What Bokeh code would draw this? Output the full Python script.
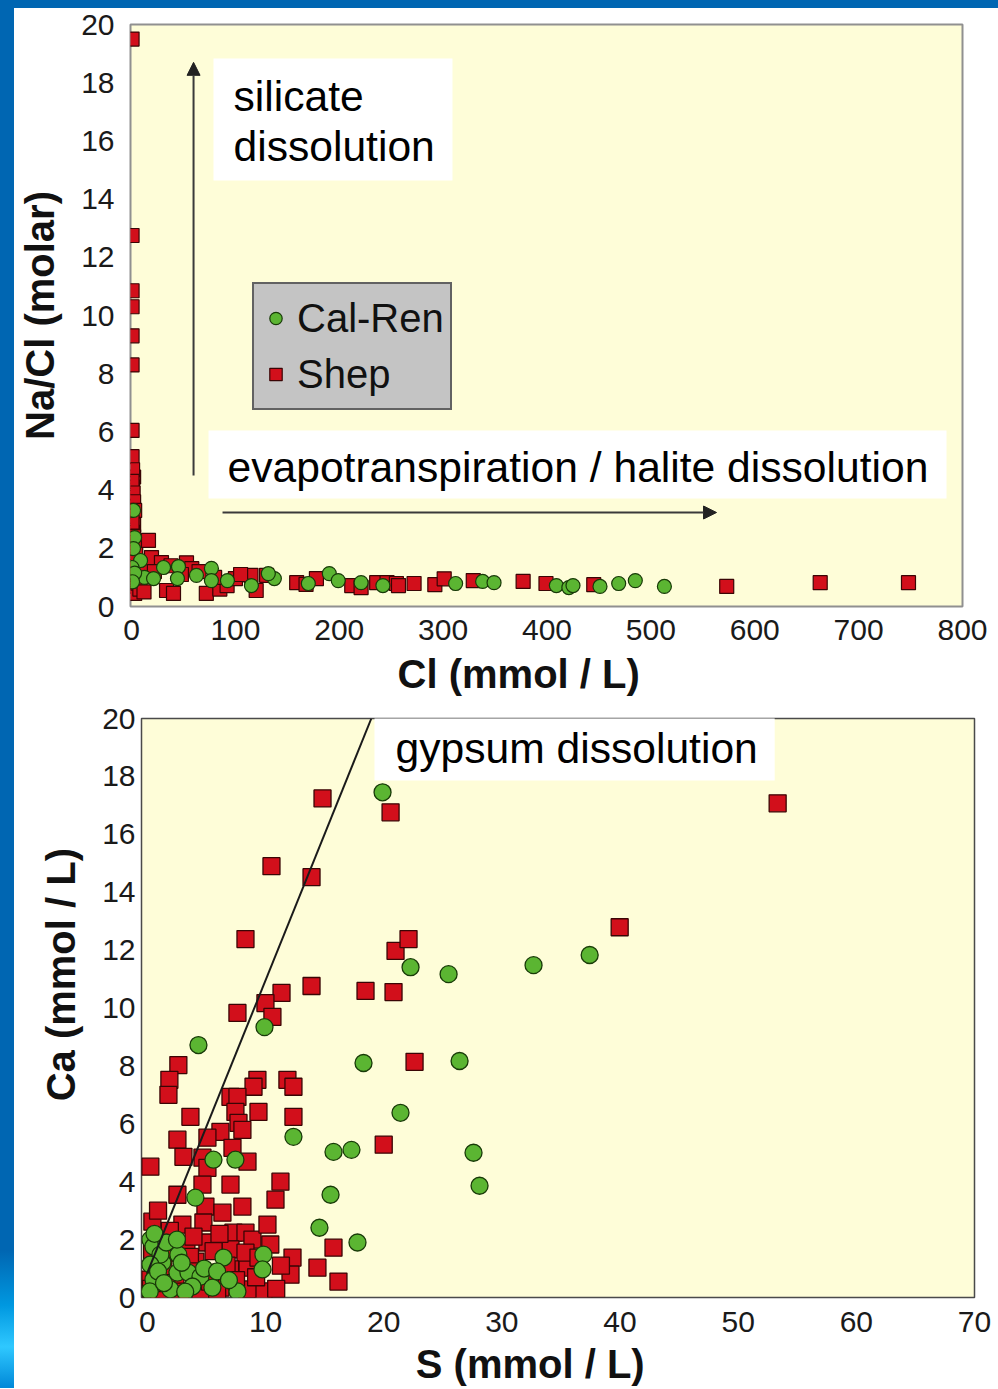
from bokeh.plotting import figure
from bokeh.models import (Range1d, Legend, LegendItem, BoxAnnotation, Label, Arrow,
                          NormalHead, FixedTicker, Div)
from bokeh.layouts import column, row
from bokeh.embed import file_html
from bokeh.resources import INLINE

# ---------------- top chart data: Na/Cl vs Cl ----------------
shep_cl = [0.5, 0.5, 0.5, 0.5, 0.5, 0.5, 0.5, 0.5, 2, 1, 0.5, 1, 1.5, 2, 1, 2.5, 1, 3, 2, 1, 4, 3,
           1, 0.5, 1.5, 2, 3, 0.5, 2, 4, 5, 6, 8, 10, 12,
           16.3, 19.2, 28.8, 33.7, 40.4, 52.9, 58, 72, 85, 92, 100, 115, 120, 130, 159, 168, 178,
           22, 38, 48, 65, 80, 105,
           212, 221, 236, 246, 255, 257, 272, 292, 301, 329, 377, 399, 445, 573, 663, 748]
shep_nacl = [19.5, 12.75, 10.85, 10.3, 9.3, 8.3, 6.05, 5.15, 4.45, 4.1, 3.75, 3.45, 3.1, 2.8, 2.55, 2.2,
             1.85, 1.6, 1.3, 1.0, 0.7, 0.45,
             4.7, 4.3, 3.9, 3.6, 3.3, 2.9, 2.4, 2.0, 1.1, 0.8, 0.6, 1.3, 0.5,
             2.27, 1.68, 1.51, 0.55, 0.45, 1.5, 1.3, 0.45, 0.6, 0.72, 0.96, 1.07, 0.55, 1.07, 0.82, 0.76,
             0.96,
             1.2, 1.4, 1.1, 1.2, 1.0, 1.1,
             0.72, 0.65, 0.82, 0.82, 0.79, 0.72, 0.79, 0.75, 0.95, 0.89, 0.86, 0.79, 0.75, 0.69,
             0.82, 0.82]
calren_cl = [1.9, 2.9, 1.9, 8.7, 0.5, 12.5, 21.2, 30.8, 45.2, 44.2, 62.5, 76.9, 76.9, 92.3, 115.4,
             137.5, 131.7, 170.2, 190.4, 199, 221, 242, 312, 338, 349, 409, 421, 425, 451, 469, 485,
             513, 3, 1]
calren_nacl = [3.30, 2.37, 1.99, 1.58, 1.34, 1.0, 0.96, 1.34, 1.37, 0.96, 1.07, 1.31, 0.89, 0.89, 0.72,
               0.96, 1.13, 0.79, 1.13, 0.89, 0.82, 0.72, 0.79, 0.86, 0.82, 0.72, 0.65, 0.72, 0.69, 0.79,
               0.89, 0.69, 1.15, 0.85]
top_x_ticks = [0, 100, 200, 300, 400, 500, 600, 700, 800]
top_y_ticks = [0, 2, 4, 6, 8, 10, 12, 14, 16, 18, 20]

# ---------------- bottom chart data: Ca vs S ----------------
shep_s = [14.82, 20.58, 53.34, 10.50, 13.89, 8.30, 21.0, 22.1, 39.97, 13.89, 11.35, 18.46, 20.83, 9.99,
          7.62, 10.58, 22.61, 2.62, 1.86, 1.78, 9.31, 8.98, 11.85, 12.36, 7.03, 7.62, 3.64, 7.45, 9.40,
          12.36, 7.71, 8.04, 6.18, 5.08, 2.54, 3.05, 0.25, 4.66, 5.08, 7.20, 8.47, 7.03, 4.66, 2.54,
          4.91, 6.35, 8.04, 11.26, 10.84, 0.42, 2.96, 4.74, 7.28, 8.30, 8.89, 10.16, 12.28, 12.11,
          14.39, 8.47, 6.18, 4.06, 5.08, 7.03, 8.30, 9.82, 8.47, 4.49, 6.18, 2.20, 1.35, 0.25, 15.75,
          16.17, 20.0, 2.37, 0.68, 3.2, 5.3, 1.1, 7.0, 9.4, 10.4,
          0.4, 0.3, 1.0, 1.6, 2.8, 3.3, 3.9, 5.6, 6.1, 6.7, 5.9, 7.5, 9.2, 10.9, 11.3, 3.6, 1.9,
          0.9, 4.2]
shep_ca = [17.24, 16.76, 17.07, 14.90, 14.52, 12.38, 11.97, 12.38, 12.79, 10.76, 10.52, 10.59, 10.55,
           10.17, 9.83, 9.69, 8.14, 8.03, 7.52, 7.0, 7.52, 7.28, 7.52, 7.28, 6.93, 6.93, 6.24, 6.41,
           6.41, 6.24, 6.03, 5.79, 5.72, 5.52, 5.45, 4.86, 4.52, 4.83, 4.48, 5.17, 4.69, 3.90, 3.90,
           3.55, 3.14, 2.93, 3.14, 4.0, 3.38, 2.62, 2.52, 2.59, 2.24, 2.24, 2.0, 2.52, 1.38, 0.79,
           1.03, 1.03, 0.86, 1.24, 1.90, 1.66, 1.55, 0.21, 0.28, 0.17, 0.34, 1.55, 1.07, 0.62, 1.72,
           0.55, 5.28, 0.45, 0.79, 0.97, 0.55, 2.0, 0.97, 1.38, 1.83,
           1.6, 0.3, 0.15, 0.5, 0.2, 1.8, 2.1, 1.6, 2.2, 1.1, 0.2, 0.6, 0.7, 0.3, 1.1, 1.4, 2.3,
           3.0, 0.9]
calren_s = [19.90, 22.27, 25.49, 32.68, 37.43, 18.29, 26.42, 21.42, 12.36, 15.75, 17.27, 27.60, 28.11,
            15.50, 14.56, 17.78, 9.91, 4.32, 5.59, 7.45, 4.06, 9.82, 9.74, 6.44, 0.25, 0.51, 2.20,
            2.62, 1.27, 2.54, 3.47, 0.51, 4.49, 3.81, 5.50, 7.62, 1.95, 0.2, 1.1, 0.25,
            0.9, 1.6, 2.9, 3.2, 4.8, 5.9, 1.4, 0.6, 2.5, 6.9]
calren_ca = [17.45, 11.41, 11.17, 11.48, 11.83, 8.10, 8.17, 6.38, 5.55, 5.03, 5.10, 5.0, 3.86, 3.55,
             2.41, 1.90, 9.34, 8.72, 4.76, 4.76, 3.45, 1.48, 0.97, 1.38, 2.0, 1.76, 1.90, 1.48, 1.21,
             0.86, 0.86, 0.62, 0.72, 0.38, 0.34, 0.21, 0.28, 0.21, 1.48, 1.14,
             0.9, 1.9, 1.2, 0.2, 1.0, 0.9, 0.5, 2.2, 2.0, 0.6]
gypsum_s = [0.0, 18.95]
gypsum_ca = [0.86, 20.0]
bot_x_ticks = [0, 10, 20, 30, 40, 50, 60, 70]
bot_y_ticks = [0, 2, 4, 6, 8, 10, 12, 14, 16, 18, 20]

FONT = "Liberation Sans"
PLOT_BG = "#FEFDD8"
RED = "#D20F1B"
RED_LINE = "#3a0505"
GREEN = "#5BB532"
GREEN_LINE = "#183a08"
BLUE = "#0066B2"
NB = "\u00a0"


def style(p, xticks, yticks, xlabel, ylabel):
    p.xgrid.visible = False
    p.ygrid.visible = False
    p.xaxis.ticker = FixedTicker(ticks=xticks)
    p.yaxis.ticker = FixedTicker(ticks=yticks)
    for ax in (p.xaxis[0], p.yaxis[0]):
        ax.axis_line_color = None
        ax.major_tick_line_color = None
        ax.minor_tick_line_color = None
        ax.major_label_text_font = FONT
        ax.major_label_text_font_size = "30px"
        ax.major_label_text_color = "#1a1a1a"
        ax.axis_label_text_font = FONT
        ax.axis_label_text_font_size = "40px"
        ax.axis_label_text_font_style = "bold"
        ax.axis_label_text_color = "#111111"
    p.xaxis.axis_label = xlabel
    p.yaxis.axis_label = ylabel


# ---------------- top figure ----------------
p1 = figure(width=984, height=692, x_range=Range1d(-1, 800), y_range=Range1d(0, 20),
            output_backend="svg", toolbar_location=None,
            min_border_left=116, min_border_right=36, min_border_top=16, min_border_bottom=94,
            background_fill_color=PLOT_BG, border_fill_color="white")
style(p1, top_x_ticks, top_y_ticks, "Cl (mmol / L)" + NB * 5, "Na/Cl (molar)")
p1.outline_line_color = "#909090"
p1.outline_line_width = 2
p1.xaxis.major_label_standoff = 7
p1.xaxis.axis_label_standoff = 9
p1.yaxis.major_label_standoff = 10
p1.yaxis.axis_label_standoff = 16

r_shep1 = p1.scatter(shep_cl, shep_nacl, marker="square", size=14, fill_color=RED,
                     line_color=RED_LINE, line_width=1.2)
r_cal1 = p1.scatter(calren_cl, calren_nacl, marker="circle", size=14, fill_color=GREEN,
                    line_color=GREEN_LINE, line_width=1.2)

# annotation boxes and arrows
p1.add_layout(BoxAnnotation(left=78.9, right=309, bottom=14.64, top=18.83,
                            fill_color="white", fill_alpha=1, line_color=None))
p1.add_layout(BoxAnnotation(left=74.1, right=784.6, bottom=3.71, top=6.05,
                            fill_color="white", fill_alpha=1, line_color=None))
for txt, yy in (("silicate", 17.56), ("dissolution", 15.81)):
    p1.add_layout(Label(x=98.2, y=yy, text=txt, text_font=FONT, text_font_size="42.6px",
                        text_baseline="middle", text_color="black"))
p1.add_layout(Label(x=92.4, y=4.81, text="evapotranspiration / halite dissolution", text_font=FONT,
                    text_font_size="42.6px", text_baseline="middle", text_color="black"))
p1.add_layout(Arrow(end=NormalHead(size=13, fill_color="#222222", line_color="#222222"),
                    x_start=59.7, y_start=4.5, x_end=59.7, y_end=18.7,
                    line_color="#3a3a3a", line_width=2))
p1.add_layout(Arrow(end=NormalHead(size=13, fill_color="#222222", line_color="#222222"),
                    x_start=87.6, y_start=3.23, x_end=563.2, y_end=3.23,
                    line_color="#3a3a3a", line_width=2))

legend = Legend(items=[LegendItem(label="Cal-Ren", renderers=[r_cal1]),
                       LegendItem(label="Shep", renderers=[r_shep1])],
                location=(122, 196), label_text_font=FONT, label_text_font_size="40px",
                label_text_color="#111111", label_height=56, glyph_height=56, glyph_width=31,
                label_standoff=6, padding=6, spacing=0, margin=0,
                border_line_color="black", border_line_width=2,
                background_fill_color="#C4C4C4", background_fill_alpha=1)
p1.add_layout(legend)

# ---------------- bottom figure ----------------
p2 = figure(width=984, height=688, x_range=Range1d(-0.5, 70), y_range=Range1d(0, 20),
            output_backend="svg", toolbar_location=None,
            min_border_left=127, min_border_right=24, min_border_top=18, min_border_bottom=90,
            background_fill_color=PLOT_BG, border_fill_color="white")
style(p2, bot_x_ticks, bot_y_ticks, "S (mmol / L)" + NB * 5, NB * 6 + "Ca (mmol / L)")
p2.outline_line_color = "#4a4a4a"
p2.outline_line_width = 1.5
p2.xaxis.major_label_standoff = 8
p2.xaxis.axis_label_standoff = 7
p2.yaxis.major_label_standoff = 0
p2.yaxis.axis_label_standoff = 16

p2.scatter(shep_s, shep_ca, marker="square", size=17, fill_color=RED,
           line_color=RED_LINE, line_width=1.3)
p2.scatter(calren_s, calren_ca, marker="circle", size=17, fill_color=GREEN,
           line_color=GREEN_LINE, line_width=1.3)
p2.line(gypsum_s, gypsum_ca, line_color="#1a1a1a", line_width=2)

p2.add_layout(BoxAnnotation(left=19.22, right=53.09, bottom=17.86, top=20.35,
                            fill_color="white", fill_alpha=1, line_color=None, level="overlay"))
p2.add_layout(Label(x=21.0, y=18.97, text="gypsum dissolution", text_font=FONT,
                    text_font_size="42.6px", text_baseline="middle", text_color="black",
                    level="overlay"))

top_strip = Div(text="", width=998, height=8, margin=0,
                styles={"background-color": BLUE})
left1 = Div(text="", width=14, height=692, margin=0,
            styles={"background-color": BLUE})
left2 = Div(text="", width=14, height=688, margin=0,
            styles={"background": "linear-gradient(to bottom, #0066B2 0%, #0066B2 80%, "
                                  "#0098E0 88%, #2FC8FF 94%, #0088D8 100%)"})
layout = column(top_strip, row(left1, p1, spacing=0), row(left2, p2, spacing=0), spacing=0)

open("out.html", "w").write(file_html(layout, INLINE))
